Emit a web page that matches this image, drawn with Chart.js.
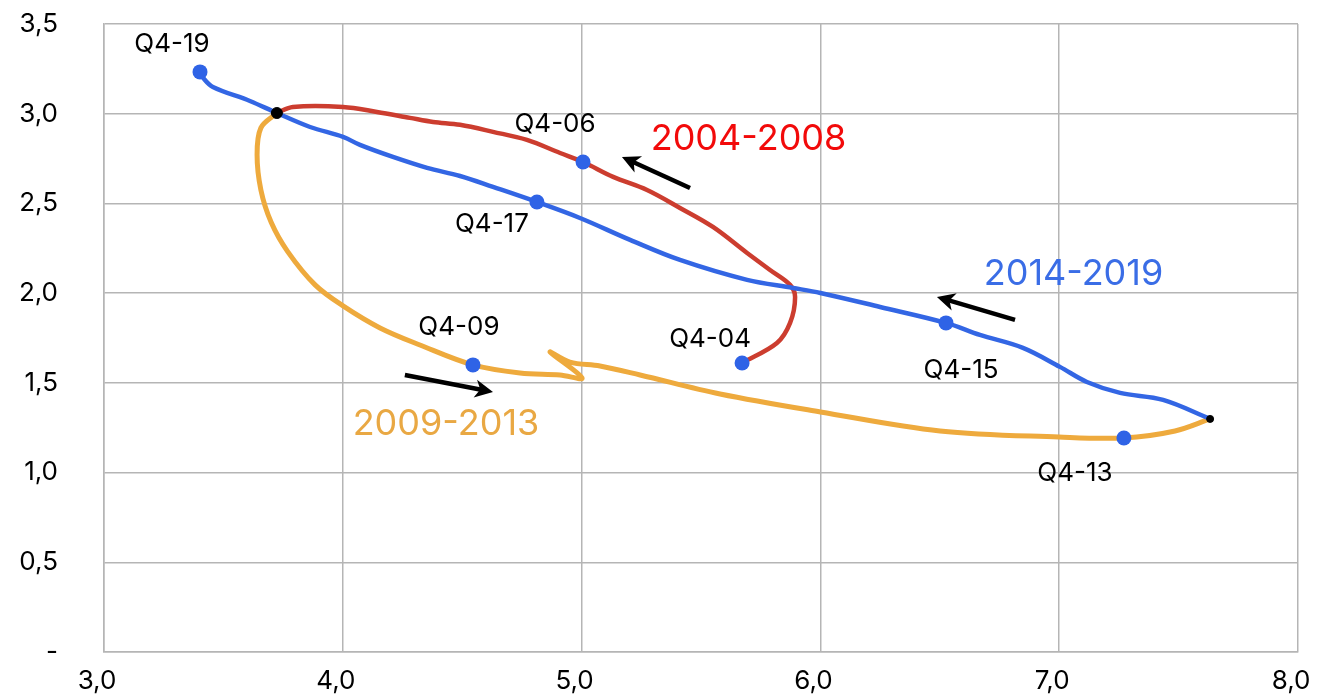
<!DOCTYPE html>
<html>
<head>
<meta charset="utf-8">
<script src="https://cdn.jsdelivr.net/npm/chart.js@4/dist/chart.umd.min.js"></script>
<style>
  html, body { margin: 0; padding: 0; background: #fff; }
</style>
</head>
<body>
<canvas id="myChart" width="1326" height="697"></canvas>
<script>
// 2004-2008 path (from Q4-04 to the junction)
const redX = [5.672, 5.818, 5.873, 5.894, 5.873, 5.789, 5.693, 5.550, 5.412, 5.274, 5.132, 5.006, 4.910, 4.771, 4.629, 4.491, 4.378, 4.281, 4.143, 4.001, 3.791, 3.724];
const redY = [1.611, 1.722, 1.834, 1.979, 2.046, 2.129, 2.224, 2.369, 2.475, 2.575, 2.648, 2.731, 2.781, 2.854, 2.899, 2.938, 2.954, 2.977, 3.010, 3.038, 3.038, 3.004];

// 2009-2013 path
const orangeX = [3.724, 3.657, 3.641, 3.657, 3.700, 3.770, 3.884, 4.001, 4.156, 4.323, 4.545, 4.742, 4.910, 5.002, 4.868, 4.951, 5.077, 5.245, 5.580, 6.000, 6.501, 6.999, 7.271, 7.485, 7.632];
const orangeY = [3.004, 2.921, 2.771, 2.575, 2.395, 2.230, 2.046, 1.929, 1.806, 1.711, 1.600, 1.555, 1.544, 1.527, 1.672, 1.616, 1.594, 1.544, 1.438, 1.338, 1.232, 1.198, 1.193, 1.232, 1.299];

// 2014-2019 path
const blueX = [7.632, 7.435, 7.255, 7.116, 7.003, 6.848, 6.668, 6.526, 6.250, 6.000, 5.885, 5.693, 5.412, 5.203, 4.993, 4.813, 4.629, 4.491, 4.353, 4.210, 4.072, 4.001, 3.863, 3.724, 3.611, 3.456, 3.415, 3.402];
const blueY = [1.299, 1.405, 1.444, 1.505, 1.589, 1.695, 1.767, 1.834, 1.923, 2.001, 2.029, 2.074, 2.185, 2.297, 2.419, 2.508, 2.592, 2.653, 2.698, 2.759, 2.826, 2.871, 2.926, 3.004, 3.071, 3.149, 3.200, 3.233];

// labelled quarters
const quarterNames = ['Q4-04', 'Q4-06', 'Q4-09', 'Q4-13', 'Q4-15', 'Q4-17', 'Q4-19'];
const quarterX = [5.672, 5.006, 4.545, 7.271, 6.526, 4.813, 3.402];
const quarterY = [1.611, 2.731, 1.600, 1.193, 1.834, 2.508, 3.233];

// where the periods meet
const joinX = [3.724, 7.632];
const joinY = [3.004, 1.299];

// period names and direction arrows (data units)
const periodNames = ['2004-2008', '2009-2013', '2014-2019'];
const periodX = [5.699, 4.432, 7.060];
const periodY = [2.857, 1.268, 2.104];
const arrowFromX = [5.454, 4.260, 6.815];
const arrowFromY = [2.586, 1.544, 1.851];
const arrowToX = [5.169, 4.629, 6.488];
const arrowToY = [2.759, 1.449, 1.979];

const xTicks = [3, 4, 5, 6, 7, 8];
const yTicks = [0, 0.5, 1, 1.5, 2, 2.5, 3, 3.5];

// styling
const labelShift = [[-32, -24], [-28, -38], [-14, -38], [-49, 35], [15, 47], [-45, 22], [-28, -28]];
const periodColors = ['#f20a0a', '#e9a843', '#3a6de6'];
const FONT = 'Inter, "Noto Sans", sans-serif';

function pts(xs, ys) {
    return xs.map((x, i) => ({ x: x, y: ys[i] }));
}

function fmt(v) {
    if (v === 0) return '-';
    return v.toFixed(1).replace('.', ',');
}

function drawArrow(ctx, x1, y1, x2, y2) {
    const a = Math.atan2(y2 - y1, x2 - x1);
    const head = 18, half = 9;
    const bx = x2 - head * Math.cos(a), by = y2 - head * Math.sin(a);
    ctx.beginPath();
    ctx.moveTo(x1, y1);
    ctx.lineTo(x2 - 8 * Math.cos(a), y2 - 8 * Math.sin(a));
    ctx.lineWidth = 4.5;
    ctx.stroke();
    ctx.beginPath();
    ctx.moveTo(x2, y2);
    ctx.lineTo(bx + half * Math.sin(a), by - half * Math.cos(a));
    ctx.lineTo(x2 - 13 * Math.cos(a), y2 - 13 * Math.sin(a));
    ctx.lineTo(bx - half * Math.sin(a), by + half * Math.cos(a));
    ctx.closePath();
    ctx.fill();
}

const textPlugin = {
    id: 'textPlugin',
    afterDatasetsDraw(chart) {
        const ctx = chart.ctx;
        const xs = chart.scales.x, ys = chart.scales.y;
        ctx.save();
        ctx.textAlign = 'center';
        ctx.textBaseline = 'middle';

        // quarter labels
        ctx.fillStyle = '#000';
        ctx.font = '26px ' + FONT;
        quarterNames.forEach((name, i) => {
            const px = xs.getPixelForValue(quarterX[i]) + labelShift[i][0];
            const py = ys.getPixelForValue(quarterY[i]) + labelShift[i][1];
            ctx.fillText(name, px, py);
        });

        // period names
        ctx.font = '36px ' + FONT;
        periodNames.forEach((name, i) => {
            ctx.fillStyle = periodColors[i];
            ctx.fillText(name, xs.getPixelForValue(periodX[i]), ys.getPixelForValue(periodY[i]));
        });

        // arrows
        ctx.strokeStyle = '#000';
        ctx.fillStyle = '#000';
        arrowFromX.forEach((fx, i) => {
            drawArrow(ctx,
                xs.getPixelForValue(fx), ys.getPixelForValue(arrowFromY[i]),
                xs.getPixelForValue(arrowToX[i]), ys.getPixelForValue(arrowToY[i]));
        });
        ctx.restore();
    }
};

const ctx = document.getElementById('myChart').getContext('2d');
const myChart = new Chart(ctx, {
    type: 'scatter',
    data: {
        datasets: [{
            label: 'quarters',
            data: pts(quarterX, quarterY),
            backgroundColor: '#2f63e6',
            borderWidth: 0,
            pointRadius: 7.5,
            showLine: false,
            order: 0,
        }, {
            label: 'joins',
            data: pts(joinX, joinY),
            backgroundColor: '#000',
            borderColor: '#000',
            borderWidth: 1,
            pointRadius: [5.5, 3.5],
            showLine: false,
            order: 1,
        }, {
            label: '2014-2019',
            data: pts(blueX, blueY),
            borderColor: '#3366e4',
            borderWidth: 4.5,
            pointRadius: 0,
            showLine: true,
            tension: 0.35,
            order: 2,
        }, {
            label: '2004-2008',
            data: pts(redX, redY),
            borderColor: '#cc3d2f',
            borderWidth: 4.5,
            pointRadius: 0,
            showLine: true,
            tension: 0.35,
            order: 3,
        }, {
            label: '2009-2013',
            data: pts(orangeX, orangeY),
            borderColor: '#eeaa3d',
            borderWidth: 5,
            pointRadius: 0,
            showLine: true,
            tension: 0.35,
            order: 4,
        }]
    },
    options: {
        responsive: false,
        animation: false,
        devicePixelRatio: 1,
        layout: { padding: { top: 24, right: 28, left: 0, bottom: 0 } },
        plugins: {
            legend: { display: false },
            tooltip: { enabled: false },
        },
        scales: {
            x: {
                type: 'linear',
                min: 3,
                max: 8,
                afterBuildTicks: (s) => { s.ticks = xTicks.map(v => ({ value: v })); },
                afterFit: (s) => { s.height = 45; s.paddingLeft = 0; s.paddingRight = 0; },
                grid: { color: '#b5b5b5', lineWidth: 1.5, drawTicks: false },
                border: { color: '#b5b5b5', width: 1.5 },
                ticks: {
                    color: '#000',
                    padding: 14,
                    labelOffset: -7,
                    maxRotation: 0,
                    font: { family: FONT, size: 26 },
                    callback: (v) => fmt(v),
                },
            },
            y: {
                type: 'linear',
                min: 0,
                max: 3.5,
                afterBuildTicks: (s) => { s.ticks = yTicks.map(v => ({ value: v })); },
                afterFit: (s) => { s.width = 104; s.paddingTop = 0; s.paddingBottom = 0; },
                grid: { color: '#b5b5b5', lineWidth: 1.5, drawTicks: false },
                border: { color: '#b5b5b5', width: 1.5 },
                ticks: {
                    color: '#000',
                    padding: 46,
                    font: { family: FONT, size: 26 },
                    callback: (v) => fmt(v),
                },
            },
        },
    },
    plugins: [textPlugin],
});
</script>
</body>
</html>
